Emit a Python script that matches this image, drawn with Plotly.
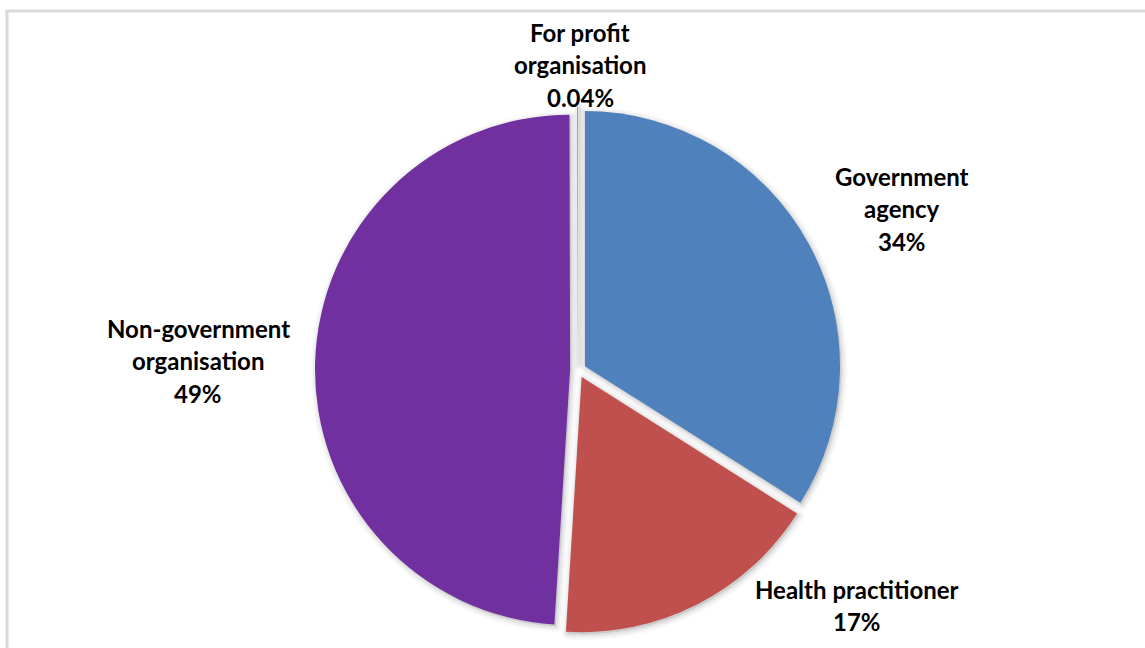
import plotly.graph_objects as go

# Share of respondents by organisation type (percent)
labels = ["Government agency", "Health practitioner", "Non-government organisation", "For profit organisation"]
label_lines = [["Government", "agency"], ["Health practitioner"], ["Non-government", "organisation"], ["For profit", "organisation"]]
values = [34, 17, 49, 0.04]
colors = ["#4F81BD", "#C0504D", "#7030A0", "#8064A2"]

W, H = 1145, 648
cx, cy, half = 578, 370, 263  # pie box centre and half-size in pixels
pull = 0.031

def dom(dx=0, dy=0):
    return dict(
        x=[(cx - half + dx) / W, (cx + half + dx) / W],
        y=[1 - (cy + half + dy) / H, 1 - (cy - half + dy) / H],
    )

fig = go.Figure()

# soft drop shadow: stacked translucent grey pies with widening strokes
for width, alpha in [(12, 0.025), (8, 0.035), (4, 0.05)]:
    fig.add_trace(go.Pie(
        labels=labels, values=values, sort=False, direction="clockwise", rotation=0,
        pull=pull, domain=dom(1.5, 2),
        marker=dict(colors=[f"rgba(0,0,0,{alpha})"] * len(values),
                    line=dict(color=f"rgba(0,0,0,{alpha})", width=width)),
        textinfo="none", hoverinfo="skip", showlegend=False,
    ))

fig.add_trace(go.Pie(
    labels=labels, values=values, sort=False, direction="clockwise", rotation=0,
    pull=pull, domain=dom(),
    marker=dict(colors=colors, line=dict(width=0)),
    textinfo="none", hoverinfo="skip", showlegend=False,
))

# data labels: centre x and y of first line, in pixels
label_pos = [(902, 176), (857, 589), (198, 328), (580, 32)]
line_gap = 32.5
font = dict(family="Lato, 'Open Sans', sans-serif", size=24, color="#000000")

annotations = []
for lines, v, (lx, ly) in zip(label_lines, values, label_pos):
    text_lines = lines + [f"{v:g}%"]
    for i, t in enumerate(text_lines):
        annotations.append(dict(
            text=f"<b>{t}</b>", x=lx / W, y=1 - (ly + i * line_gap) / H,
            xref="paper", yref="paper", xanchor="center", yanchor="middle",
            showarrow=False, font=font,
        ))

# light grey chart frame
frame = dict(type="rect", xref="paper", yref="paper",
             x0=7 / W, x1=1.02, y0=-0.02, y1=1 - 11 / H,
             line=dict(color="#D9D9D9", width=3), fillcolor="rgba(0,0,0,0)", layer="below")

fig.update_layout(
    width=W, height=H,
    margin=dict(l=0, r=0, t=0, b=0),
    paper_bgcolor="white", plot_bgcolor="white",
    annotations=annotations, shapes=[frame],
    showlegend=False,
)

fig.write_html("out.html")
